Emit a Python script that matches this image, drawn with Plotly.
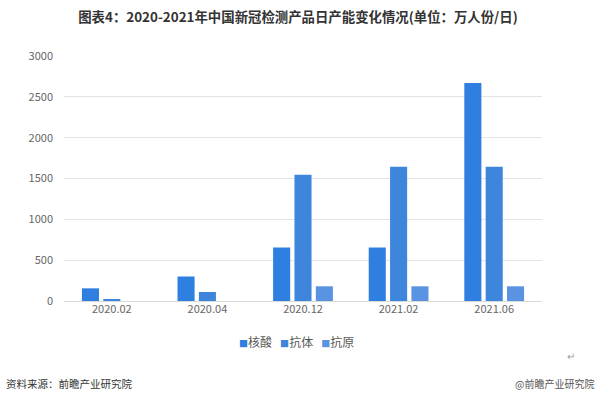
import plotly.graph_objects as go

categories = ["2020.02", "2020.04", "2020.12", "2021.02", "2021.06"]
nucleic = [155, 300, 655, 655, 2670]
antibody = [25, 110, 1545, 1645, 1645]
antigen = [None, None, 180, 180, 180]
series_names = ["核酸", "抗体", "抗原"]
colors = ["#2f7fe1", "#3e86dc", "#5a93e2"]
y_ticks = [0, 500, 1000, 1500, 2000, 2500, 3000]

font_family = "Noto Sans CJK SC, Noto Sans, sans-serif"

fig = go.Figure()
for name, vals, c in zip(series_names, [nucleic, antibody, antigen], colors):
    fig.add_trace(go.Bar(x=categories, y=vals, name=name, showlegend=False,
                         marker=dict(color=c, line=dict(width=0))))

fig.update_layout(
    width=596, height=400,
    margin=dict(l=64, r=54, t=56, b=99),
    paper_bgcolor="white", plot_bgcolor="white",
    barmode="group", bargap=0.33, bargroupgap=0.2,
    font=dict(family=font_family, size=11, color="#595959"),
    title=dict(text="<b>图表4：2020-2021年中国新冠检测产品日产能变化情况(单位：万人份/日)</b>",
               x=0.5, xanchor="center", y=0.957, yanchor="middle",
               font=dict(size=13.4, color="#333333", family=font_family)),
)
fig.update_yaxes(range=[0, 3000], tickvals=y_ticks, showgrid=True, gridcolor="#e3e3e3",
                 gridwidth=1, zeroline=True, zerolinecolor="#d9d9d9", zerolinewidth=1,
                 ticks="", ticklabelstandoff=10, tickfont=dict(size=11, color="#666666"))
fig.update_xaxes(showgrid=False, showline=False, ticks="", tickfont=dict(size=11, color="#666666"))

# compact legend built from series names/colours
legend_text = "   ".join(
    f"<span style='color:{c};font-size:9px'>■</span><span style='color:#595959'>{n}</span>"
    for n, c in zip(series_names, colors))
fig.add_annotation(text=legend_text, xref="paper", yref="paper",
                   x=(296 - 64) / 478, xanchor="center", y=(301 - 341) / 245, yanchor="middle",
                   showarrow=False, font=dict(size=12, family=font_family))

fig.add_annotation(text="资料来源：前瞻产业研究院", xref="paper", yref="paper",
                   x=(4 - 64) / 478, xanchor="left", y=(301 - 383) / 245, yanchor="middle",
                   showarrow=False, font=dict(size=10.5, color="#333333", family=font_family))
fig.add_annotation(text="@前瞻产业研究院", xref="paper", yref="paper",
                   x=(596 - 64) / 478, xanchor="right", y=(301 - 383) / 245, yanchor="middle",
                   showarrow=False, font=dict(size=10, color="#555555", family=font_family))
fig.add_annotation(text="↵", xref="paper", yref="paper",
                   x=(571 - 64) / 478, xanchor="center", y=(301 - 355) / 245, yanchor="middle",
                   showarrow=False, font=dict(size=10, color="#999999", family=font_family))

fig.write_html("out.html")
